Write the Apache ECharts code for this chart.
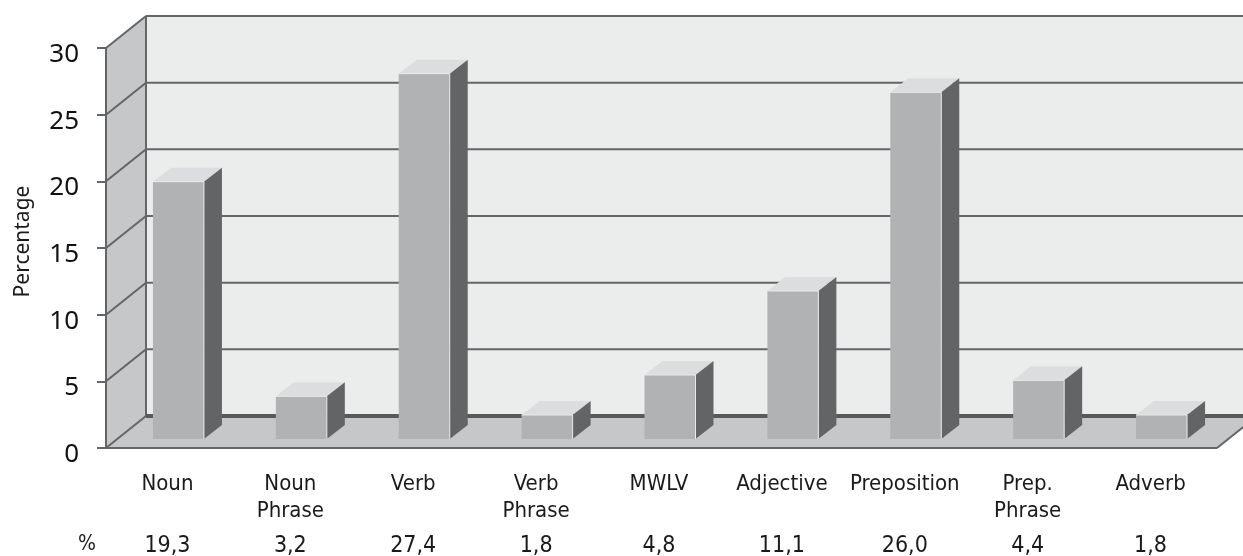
<!DOCTYPE html>
<html>
<head>
<meta charset="utf-8">
<style>
  html, body { margin: 0; padding: 0; background: #fff; }
  #main { width: 1243px; height: 556px; }
</style>
<script src="https://cdn.jsdelivr.net/npm/echarts@6/dist/echarts.min.js"></script>
</head>
<body>
<div id="main"></div>
<script>
  var categories = ['Noun', 'Noun\nPhrase', 'Verb', 'Verb\nPhrase', 'MWLV', 'Adjective', 'Preposition', 'Prep.\nPhrase', 'Adverb'];
  var values = [19.3, 3.2, 27.4, 1.8, 4.8, 11.1, 26.0, 4.4, 1.8];
  var valueLabels = ['19,3', '3,2', '27,4', '1,8', '4,8', '11,1', '26,0', '4,4', '1,8'];
  var yTicks = [5, 10, 15, 20, 25, 30];

  var lineColor = '#646567';
  var wallDepthX = 40, wallDepthY = 32;
  var barWidth = 51, barDepthX = 18, barDepthY = 14;
  var barShiftX = 11, barShiftY = 9;

  var labelFont = '"DejaVu Sans Condensed", "DejaVu Sans", sans-serif';

  function line(x1, y1, x2, y2, width, color) {
    return {
      type: 'line',
      shape: { x1: x1, y1: y1, x2: x2, y2: y2 },
      style: { stroke: color || lineColor, lineWidth: width }
    };
  }

  function poly(points, fill) {
    return { type: 'polygon', shape: { points: points }, style: { fill: fill } };
  }

  // back wall, left wall and floor, all hung on the axis scale
  function renderRoom(params, api) {
    var x0 = params.coordSys.x;
    var y0 = api.coord([0, 0])[1];
    var yTop = api.coord([0, 30])[1];
    var w = api.getWidth();
    var right = x0 + 1111;
    var bx = x0 + wallDepthX;
    return {
      type: 'group',
      children: [
        poly([[bx, yTop - wallDepthY], [w, yTop - wallDepthY], [w, y0 - wallDepthY], [bx, y0 - wallDepthY]], '#ebeded'),
        poly([[x0, yTop], [bx, yTop - wallDepthY], [bx, y0 - wallDepthY], [x0, y0]], '#c6c7c9'),
        poly([[x0, y0], [bx, y0 - wallDepthY], [right + wallDepthX, y0 - wallDepthY], [right, y0]], '#c6c7c9'),
        line(x0, yTop, x0, y0, 2),
        line(bx, yTop - wallDepthY, bx, y0 - wallDepthY, 2),
        line(bx, yTop - wallDepthY, w, yTop - wallDepthY, 2),
        line(x0, y0, bx, y0 - wallDepthY, 2),
        line(bx, y0 - wallDepthY, w, y0 - wallDepthY, 4, '#58595b'),
        line(x0, y0, right, y0, 2),
        line(right, y0, right + wallDepthX, y0 - wallDepthY, 2)
      ]
    };
  }

  function renderGridLine(params, api) {
    var x0 = params.coordSys.x;
    var y = api.coord([0, api.value(1)])[1];
    var bx = x0 + wallDepthX;
    return {
      type: 'group',
      children: [
        line(x0, y, bx, y - wallDepthY, 2),
        line(bx, y - wallDepthY, api.getWidth(), y - wallDepthY, 2)
      ]
    };
  }

  function renderBar(params, api) {
    var top = api.coord([api.value(0), api.value(1)]);
    var base = api.coord([api.value(0), 0]);
    var l = top[0] + barShiftX - barWidth / 2;
    var r = l + barWidth;
    var t = top[1] - barShiftY;
    var b = base[1] - barShiftY;
    return {
      type: 'group',
      children: [
        poly([[l, t], [r, t], [r, b], [l, b]], '#b1b2b4'),
        poly([[l, t], [r, t], [r + barDepthX, t - barDepthY], [l + barDepthX, t - barDepthY]], '#dcddde'),
        poly([[r, t], [r + barDepthX, t - barDepthY], [r + barDepthX, b - barDepthY], [r, b]], '#636466'),
        line(l, t, r, t, 1, '#e9eaea'),
        line(r, t, r, b, 1, '#e9eaea')
      ]
    };
  }

  var myChart = echarts.init(document.getElementById('main'));

  var option = {
    animation: false,
    backgroundColor: '#fff',
    grid: { left: 106, top: 48, width: 1106, height: 400, outerBoundsMode: 'none' },
    graphic: [{
      type: 'text',
      left: 78,
      top: 534,
      style: { text: '%', font: '21px ' + labelFont, fill: '#1a1a1a' }
    }],
    xAxis: [{
      type: 'category',
      data: categories,
      axisLine: { show: false },
      axisTick: { show: false },
      axisLabel: {
        interval: 0,
        margin: 23,
        verticalAlign: 'top',
        fontFamily: labelFont,
        fontSize: 22,
        lineHeight: 27,
        color: '#1a1a1a'
      }
    }, {
      type: 'category',
      position: 'bottom',
      offset: 87,
      data: valueLabels,
      axisLine: { show: false },
      axisTick: { show: false },
      axisLabel: {
        interval: 0,
        margin: 0,
        verticalAlign: 'top',
        fontFamily: labelFont,
        fontSize: 23,
        color: '#1a1a1a'
      }
    }],
    yAxis: {
      type: 'value',
      min: 0,
      max: 30,
      interval: 5,
      name: 'Percentage',
      nameLocation: 'middle',
      nameGap: 72,
      nameMoveOverlap: false,
      nameTextStyle: { fontFamily: '"Noto Sans", sans-serif', fontSize: 21, color: '#1a1a1a', padding: [0, 0, 0, 13] },
      splitLine: { show: false },
      axisLine: { show: false },
      axisTick: { show: true, length: 9, lineStyle: { color: lineColor, width: 2 } },
      // the numbers sit a little below their ticks in the original
      axisLabel: { margin: 27, verticalAlign: 'top', lineHeight: 13, fontFamily: '"Noto Sans", sans-serif', fontSize: 26, color: '#111' }
    },
    series: [{
      type: 'custom',
      name: 'room',
      silent: true,
      renderItem: renderRoom,
      data: [[0, 0]],
      z: 1
    }, {
      type: 'custom',
      name: 'gridlines',
      silent: true,
      renderItem: renderGridLine,
      data: yTicks.map(function (t) { return [0, t]; }),
      z: 2
    }, {
      type: 'custom',
      name: 'bars',
      renderItem: renderBar,
      data: values.map(function (v, i) { return [i, v]; }),
      z: 3
    }]
  };

  myChart.setOption(option);
</script>
</body>
</html>
